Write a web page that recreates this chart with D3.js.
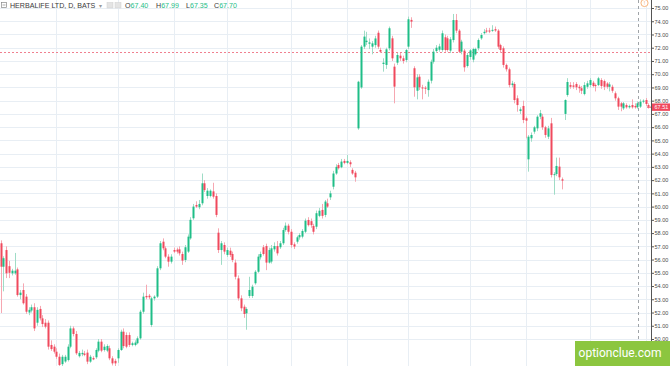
<!DOCTYPE html>
<html><head><meta charset="utf-8">
<script src="https://cdnjs.cloudflare.com/ajax/libs/d3/7.8.5/d3.min.js"></script>
<style>html,body{margin:0;padding:0;background:#fff;overflow:hidden}</style>
</head><body><svg id="c" width="670" height="366"></svg>
<script>
// ---- data (daily OHLC) ----
const opens = [57.23,55.46,56.72,55.50,54.96,54.96,55.26,53.32,53.70,53.20,52.00,52.15,52.40,51.23,52.27,51.56,51.23,51.23,49.55,49.42,49.04,48.66,48.10,48.30,48.41,49.42,50.80,50.38,48.70,48.85,48.90,48.97,48.29,48.56,48.62,49.12,49.80,49.17,49.12,49.30,48.54,48.35,48.54,49.17,50.55,50.30,50.30,49.55,49.55,49.68,50.05,52.06,53.25,53.27,51.06,53.07,53.20,55.34,57.35,56.85,56.22,55.84,56.72,56.75,56.77,56.42,55.97,56.60,57.60,59.12,60.12,59.95,60.25,61.76,60.80,60.80,61.15,60.80,58.03,56.72,57.10,56.35,56.67,56.42,55.77,54.58,53.07,52.44,51.94,53.25,53.25,54.21,55.08,56.17,56.93,57.02,55.77,55.85,56.77,57.02,56.93,57.23,58.23,58.56,58.10,57.15,57.35,57.68,57.73,58.10,58.99,58.90,58.54,58.48,59.30,59.75,59.37,60.25,60.70,61.50,62.50,63.14,62.97,63.45,63.30,63.35,62.77,62.56,65.91,69.00,72.08,72.43,72.30,72.08,72.20,73.13,71.83,70.77,70.70,71.96,72.71,70.57,70.87,71.40,71.20,71.07,72.08,74.10,70.45,68.75,69.81,69.00,68.98,68.80,69.51,70.94,71.75,71.85,71.83,72.79,72.71,71.78,72.58,74.09,73.29,71.70,71.78,70.62,71.30,71.10,71.50,71.96,72.71,73.10,73.30,73.30,73.30,73.40,73.29,72.20,71.96,70.70,70.37,69.18,69.26,68.18,67.22,67.60,66.67,63.57,65.16,65.66,65.91,66.79,66.79,65.99,65.28,66.29,62.39,62.46,63.02,62.06,67.00,68.43,69.18,69.15,69.26,69.05,68.94,68.50,69.05,69.18,69.36,69.18,69.18,69.56,69.48,69.30,69.05,69.05,68.56,68.18,67.80,67.42,67.67,67.50,67.67,67.60,67.50,67.55,67.93,68.05,67.67];
const highs = [57.45,56.25,57.00,55.90,55.30,56.50,55.40,53.70,54.20,53.40,52.40,52.60,52.70,52.40,52.50,51.80,51.50,51.40,49.90,49.60,49.30,48.90,48.80,48.80,49.60,51.00,50.95,50.60,49.10,49.20,49.10,49.20,48.80,48.70,49.30,50.00,50.00,49.60,49.60,49.50,48.70,48.50,49.30,50.70,50.80,50.50,50.50,49.80,49.90,50.20,52.20,53.50,54.10,53.40,53.20,53.30,55.50,57.40,57.60,57.00,56.40,56.40,56.90,56.90,57.00,56.60,57.10,57.90,59.20,60.20,60.40,60.50,62.50,62.00,61.40,61.30,61.80,61.00,58.36,57.40,57.30,56.90,56.90,56.60,56.00,54.80,53.30,52.60,52.40,54.70,54.10,55.20,56.40,56.60,57.10,57.20,56.90,57.10,57.30,57.40,57.40,58.40,58.80,58.70,58.30,57.30,57.80,58.00,58.30,59.10,59.20,59.10,58.70,59.70,59.90,60.20,60.50,60.60,61.20,62.70,63.20,63.30,63.60,63.60,63.90,63.50,62.90,62.70,69.50,72.20,73.29,73.20,72.70,72.50,72.90,73.30,72.00,71.20,72.00,73.60,72.90,70.80,71.60,71.60,71.40,71.90,74.35,74.30,70.60,70.00,70.00,69.20,69.10,69.60,71.10,71.90,72.20,72.30,73.30,73.00,72.90,72.80,74.55,74.55,73.40,72.60,71.90,71.60,71.90,72.00,72.00,72.70,73.10,73.40,73.50,73.50,73.70,73.60,73.40,72.30,72.10,70.80,70.50,69.50,69.40,68.40,67.50,68.00,66.80,65.40,65.60,66.10,66.90,67.30,67.00,66.10,66.10,66.70,62.60,63.70,63.70,62.20,68.10,69.70,69.40,69.40,69.40,69.20,69.10,69.40,69.50,69.70,69.50,69.30,69.80,69.70,69.60,69.40,69.40,69.20,68.70,68.30,67.90,67.90,67.80,67.70,68.10,67.80,67.95,68.10,68.10,68.20,67.80];
const lows = [51.96,53.60,54.60,54.60,54.80,54.85,53.20,53.00,52.60,51.90,51.80,52.00,50.60,51.00,51.40,50.90,50.80,49.20,49.10,48.90,48.50,47.90,47.95,48.20,48.30,49.30,50.20,48.80,48.60,48.70,48.70,48.10,48.20,48.40,48.50,49.00,49.00,49.05,49.00,48.40,48.00,47.90,48.20,49.10,49.30,49.30,49.40,49.45,49.45,49.60,49.95,51.90,53.00,53.00,50.90,52.90,53.10,55.20,56.70,56.10,55.46,55.70,56.50,56.45,56.30,55.60,55.80,56.50,57.50,59.00,59.90,59.80,60.10,61.10,60.60,60.70,60.60,59.20,56.50,55.60,56.40,56.20,56.20,55.80,54.50,52.90,52.10,51.60,50.70,53.10,53.10,54.10,55.00,56.00,56.30,55.20,55.70,55.70,56.60,56.30,56.80,57.10,58.10,57.90,56.90,56.80,57.20,57.50,57.60,58.00,58.50,58.40,57.90,58.30,59.20,59.10,59.20,59.90,60.50,61.30,62.40,62.80,62.90,63.20,63.20,63.00,62.40,61.88,65.80,68.90,71.90,72.20,71.90,71.50,72.00,71.90,71.60,70.19,70.40,71.80,71.00,67.80,70.70,71.00,70.80,70.90,71.90,73.50,68.30,68.10,68.80,68.10,68.50,68.30,69.30,70.80,71.60,71.70,71.70,71.70,71.70,71.60,72.40,73.10,71.60,71.50,70.19,70.50,71.10,70.90,71.40,71.80,72.60,73.00,73.10,73.10,73.20,73.20,71.90,71.60,70.50,70.20,69.00,69.00,67.80,67.17,67.00,66.30,65.16,62.64,64.90,65.50,65.70,66.60,65.80,65.20,65.10,62.20,60.90,62.30,62.00,61.30,66.54,68.30,68.90,68.90,68.80,68.60,68.50,68.40,68.90,69.00,69.00,68.70,69.10,68.90,68.80,68.90,68.70,68.60,68.00,67.30,67.20,67.30,67.40,67.40,67.40,67.40,67.40,67.45,67.80,67.60,67.40];
const closes = [55.46,56.10,54.96,55.00,55.16,55.16,53.32,53.50,52.70,52.06,52.20,52.40,50.80,52.20,51.56,51.13,50.93,49.42,49.24,49.04,48.66,48.04,48.66,48.66,49.42,50.80,50.38,48.92,48.95,48.95,48.80,48.29,48.66,48.46,49.17,49.80,49.12,49.42,49.47,48.54,48.16,48.16,49.17,50.55,49.47,49.42,49.55,49.68,49.73,50.05,52.06,53.20,53.15,53.15,53.07,53.20,55.34,57.23,56.85,56.22,55.84,56.22,56.60,56.60,56.47,55.92,56.93,57.73,59.00,60.00,60.00,60.20,61.76,61.25,61.20,61.20,60.75,59.37,56.72,57.23,56.60,56.72,56.35,55.97,54.70,53.07,52.32,51.89,52.27,53.70,53.95,55.08,56.22,56.42,56.42,55.77,56.72,56.85,57.02,56.47,57.23,58.23,58.56,58.10,57.10,56.98,57.68,57.85,58.16,58.94,58.60,58.60,58.10,59.50,59.69,59.30,60.38,60.00,61.00,62.50,63.00,62.90,63.40,63.30,63.45,63.20,62.50,62.21,69.43,72.08,72.84,72.53,72.40,72.33,72.70,72.08,71.70,70.87,71.88,73.47,71.20,69.06,71.45,71.20,71.00,71.83,74.15,73.97,69.01,69.76,69.01,68.93,68.90,69.43,70.94,71.70,72.00,72.10,73.09,71.83,71.83,72.64,74.09,73.29,71.70,72.46,70.52,71.45,71.80,71.90,71.90,72.58,72.96,73.20,73.22,73.22,73.35,73.30,72.08,71.83,70.70,70.37,69.18,69.30,68.05,67.67,67.35,66.54,66.49,65.28,65.41,65.99,66.79,67.05,65.99,65.41,65.91,62.39,62.45,63.07,62.21,61.96,68.05,69.41,69.05,69.05,69.01,68.94,68.75,69.18,69.31,69.56,69.11,69.10,69.69,69.11,69.05,69.05,69.23,68.75,68.18,67.55,67.55,67.80,67.50,67.60,67.50,67.50,67.80,67.93,68.00,67.75,67.55];
// month-start bars (vertical grid lines)
const monthStarts = [20,42,62,81,104,124,146,168,188,211,231];
const yTicks = d3.range(50, 75.001, 1);
const title = "HERBALIFE LTD, D, BATS";
const legendLabels = ["O","H","L","C"];
const legendValues = ["67.40","67.99","67.35","67.70"];
const lastPrice = 67.51;
const alertLevel = 71.71;
const crosshairBar = 228.2;

// ---- layout ----
const W = 670, H = 366, axisX = 651;
const svg = d3.select("#c");
svg.append("rect").attr("width", W).attr("height", H).attr("fill", "#fff");

const idx = d3.range(opens.length);
const x = d3.scaleBand().domain(idx).range([-0.39, -0.39 + 2.789 * opens.length]).paddingInner(0.3).paddingOuter(0);
const xc = i => x(i) + x.bandwidth() / 2;
const y = d3.scaleLinear().domain([50, 75]).range([339, 8]);

const up = "#1fbe87", down = "#f0495d";
const upW = "#9fdcc6", downW = "#f6a7b1";

// grid
const g = svg.append("g");
g.selectAll(".hg").data(yTicks).join("line")
  .attr("x1", 0).attr("x2", axisX).attr("y1", d => Math.round(y(d)) + 0.5).attr("y2", d => Math.round(y(d)) + 0.5)
  .attr("stroke", "#e8eef4").attr("stroke-width", 1);
g.selectAll(".vg").data(monthStarts).join("line")
  .attr("x1", d => Math.round(xc(d)) + 0.5).attr("x2", d => Math.round(xc(d)) + 0.5).attr("y1", 0).attr("y2", H)
  .attr("stroke", "#e8eef4").attr("stroke-width", 1);

// alert line
svg.append("line").attr("x1", 0).attr("x2", axisX).attr("y1", Math.round(y(alertLevel)) + 0.5).attr("y2", Math.round(y(alertLevel)) + 0.5)
  .attr("stroke", "#f0808f").attr("stroke-width", 1).attr("stroke-dasharray", "2,2");

// candles
const cg = svg.append("g");
cg.selectAll(".w").data(idx).join("line")
  .attr("x1", i => Math.round(xc(i)) + 0.5).attr("x2", i => Math.round(xc(i)) + 0.5)
  .attr("y1", i => y(highs[i])).attr("y2", i => y(lows[i]))
  .attr("stroke", i => closes[i] >= opens[i] ? upW : downW).attr("stroke-width", 1);
cg.selectAll(".b").data(idx).join("rect")
  .attr("x", i => Math.round(xc(i)) - 0.5)
  .attr("width", 2)
  .attr("y", i => y(Math.max(opens[i], closes[i])))
  .attr("height", i => Math.max(1, Math.abs(y(opens[i]) - y(closes[i]))))
  .attr("fill", i => closes[i] >= opens[i] ? up : down);

// crosshair dashed vertical
const chx = Math.round(xc(0) + crosshairBar * x.step()) + 0.5;
svg.append("line").attr("x1", chx).attr("x2", chx)
  .attr("y1", 0).attr("y2", H).attr("stroke", "#a0a4a8").attr("stroke-width", 1).attr("stroke-dasharray", "3,3");

// y axis
const tf = "Liberation Sans, Arial, sans-serif";
const ax = svg.append("g").attr("transform", `translate(${axisX + 0.5},0)`)
  .call(d3.axisRight(y).tickValues(yTicks).tickFormat(d3.format(".2f")).tickSize(2.5).tickPadding(0.5));
ax.select(".domain").attr("stroke", "#555").attr("d", `M0,0V${H}`);
ax.selectAll(".tick line").attr("stroke", "#555");
ax.selectAll("text").attr("font-family", tf).attr("font-size", 5.5).attr("fill", "#4a4a4a");

// last price tag
const ly = y(lastPrice);
svg.append("line").attr("x1", 647).attr("x2", axisX).attr("y1", ly).attr("y2", ly).attr("stroke", down);
svg.append("rect").attr("x", axisX + 1).attr("y", ly - 3.7).attr("width", W - axisX - 1).attr("height", 7.4).attr("fill", down);
svg.append("text").attr("x", 654.5).attr("y", ly + 2).text(lastPrice.toFixed(2))
  .attr("font-family", tf).attr("font-size", 5.5).attr("fill", "#fff");

// marker icon top right
svg.append("circle").attr("cx", 644.5).attr("cy", 3).attr("r", 3.6).attr("fill", "#fff").attr("stroke", "#f5a25d").attr("stroke-width", 0.8);
svg.append("text").attr("x", 644.5).attr("y", 5).attr("text-anchor", "middle").text("!")
  .attr("font-family", tf).attr("font-size", 5).attr("fill", "#f5a25d");

// title / legend
svg.append("rect").attr("x", 1.5).attr("y", 2.5).attr("width", 5).attr("height", 5).attr("fill", "none").attr("stroke", "#888").attr("stroke-width", 0.7);
svg.append("line").attr("x1", 2.5).attr("x2", 5.5).attr("y1", 5).attr("y2", 5).attr("stroke", "#888").attr("stroke-width", 0.7);
svg.append("text").attr("x", 10).attr("y", 8).text(title).attr("font-family", tf).attr("font-size", 7.1).attr("fill", "#3a3a3a");
svg.append("text").attr("x", 99).attr("y", 7.5).text("▾").attr("font-family", tf).attr("font-size", 6).attr("fill", "#999");
[107, 115].forEach(px => {
  svg.append("rect").attr("x", px).attr("y", 2.5).attr("width", 6).attr("height", 5.5).attr("fill", "#e4e4e4").attr("stroke", "#cfcfcf").attr("stroke-width", 0.5);
});
const legX = [125, 156, 186, 214];
legendLabels.forEach((l, k) => {
  const t = svg.append("text").attr("x", legX[k]).attr("y", 8).attr("font-family", tf).attr("font-size", 7.1);
  t.append("tspan").text(l).attr("fill", "#3a3a3a");
  t.append("tspan").text(legendValues[k]).attr("fill", up);
});

// watermark
svg.append("rect").attr("x", 575).attr("y", 341).attr("width", W - 575).attr("height", H - 341).attr("fill", "#8cc63f");
svg.append("text").attr("x", 620).attr("y", 357).attr("text-anchor", "middle").text("optionclue.com")
  .attr("font-family", "Roboto, sans-serif").attr("font-size", 12).attr("fill", "#fff");
</script></body></html>
